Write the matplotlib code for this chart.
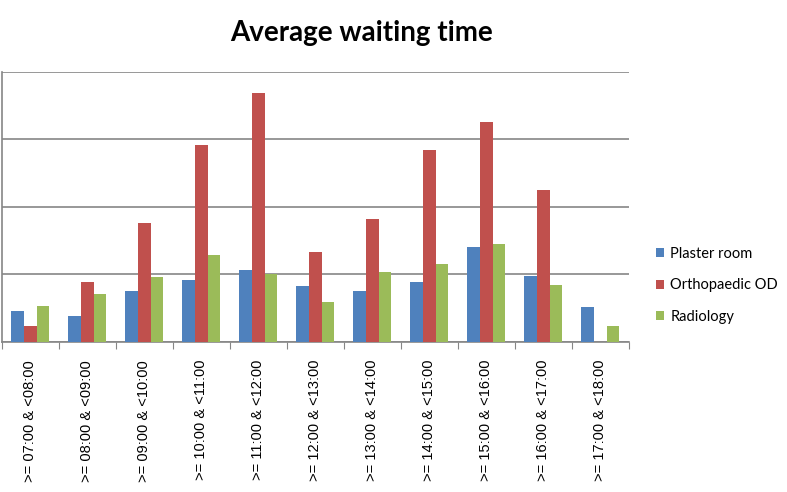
import numpy as np
import matplotlib
matplotlib.use("Agg")
import matplotlib.pyplot as plt

# =========================
# Data
# =========================

categories = [
    ">= 07:00 & <08:00", ">= 08:00 & <09:00", ">= 09:00 & <10:00",
    ">= 10:00 & <11:00", ">= 11:00 & <12:00", ">= 12:00 & <13:00",
    ">= 13:00 & <14:00", ">= 14:00 & <15:00", ">= 15:00 & <16:00",
    ">= 16:00 & <17:00", ">= 17:00 & <18:00",
]

plaster_room = [0.46, 0.39, 0.76, 0.92, 1.06, 0.83, 0.76, 0.89, 1.40, 0.97, 0.52]
orthopaedic_od = [0.23, 0.89, 1.76, 2.91, 3.69, 1.33, 1.82, 2.84, 3.25, 2.25, 0.0]
radiology = [0.53, 0.71, 0.96, 1.29, 1.00, 0.59, 1.03, 1.15, 1.45, 0.84, 0.24]

series_names = ["Plaster room", "Orthopaedic OD", "Radiology"]
colors = ["#4F81BD", "#C0504D", "#9BBB59"]

# =========================
# Plot
# =========================

fig = plt.figure(figsize=(7.87, 4.92), dpi=100)
ax = fig.add_axes([0.0025, 0.305, 0.7965, 0.549])

x = np.arange(len(categories))
w = 0.222

for i, (vals, name, c) in enumerate(zip([plaster_room, orthopaedic_od, radiology], series_names, colors)):
    ax.bar(x + (i - 1) * w, vals, width=w, color=c, label=name, zorder=3)

ax.set_xlim(-0.5, len(categories) - 0.5)
ax.set_ylim(0, 4)
ax.set_yticks([0, 1, 2, 3, 4])
ax.set_yticklabels([])
ax.tick_params(axis="y", length=0)
ax.yaxis.grid(True, color="#868686", linewidth=1.2, zorder=0)

ax.set_xticks(np.arange(-0.5, len(categories), 1.0))
ax.set_xticklabels([])
ax.tick_params(axis="x", which="major", length=5, color="#868686", direction="out")
ax.set_xticks(x, minor=True)
ax.set_xticklabels(categories, minor=True, rotation=90, fontsize=10.5,
                   family="Liberation Sans", va="top", ha="center")
ax.tick_params(axis="x", which="minor", length=0, pad=13)

for s in ["top", "right"]:
    ax.spines[s].set_visible(False)
ax.spines["left"].set_color("#868686")
ax.spines["bottom"].set_color("#868686")
ax.spines["left"].set_linewidth(1.2)
ax.spines["bottom"].set_linewidth(1.2)

fig.text(0.46, 0.933, "Average waiting time", ha="center", va="center",
         fontsize=20, fontweight="bold", family="Lato")

fig.legend(loc="center left", bbox_to_anchor=(0.833, 0.42), frameon=False,
           prop={"family": "Lato", "size": 10.5}, handlelength=0.6, handleheight=0.6,
           handletextpad=0.4, labelspacing=1.2, borderaxespad=0, borderpad=0)

plt.savefig("out.png", dpi=100)
